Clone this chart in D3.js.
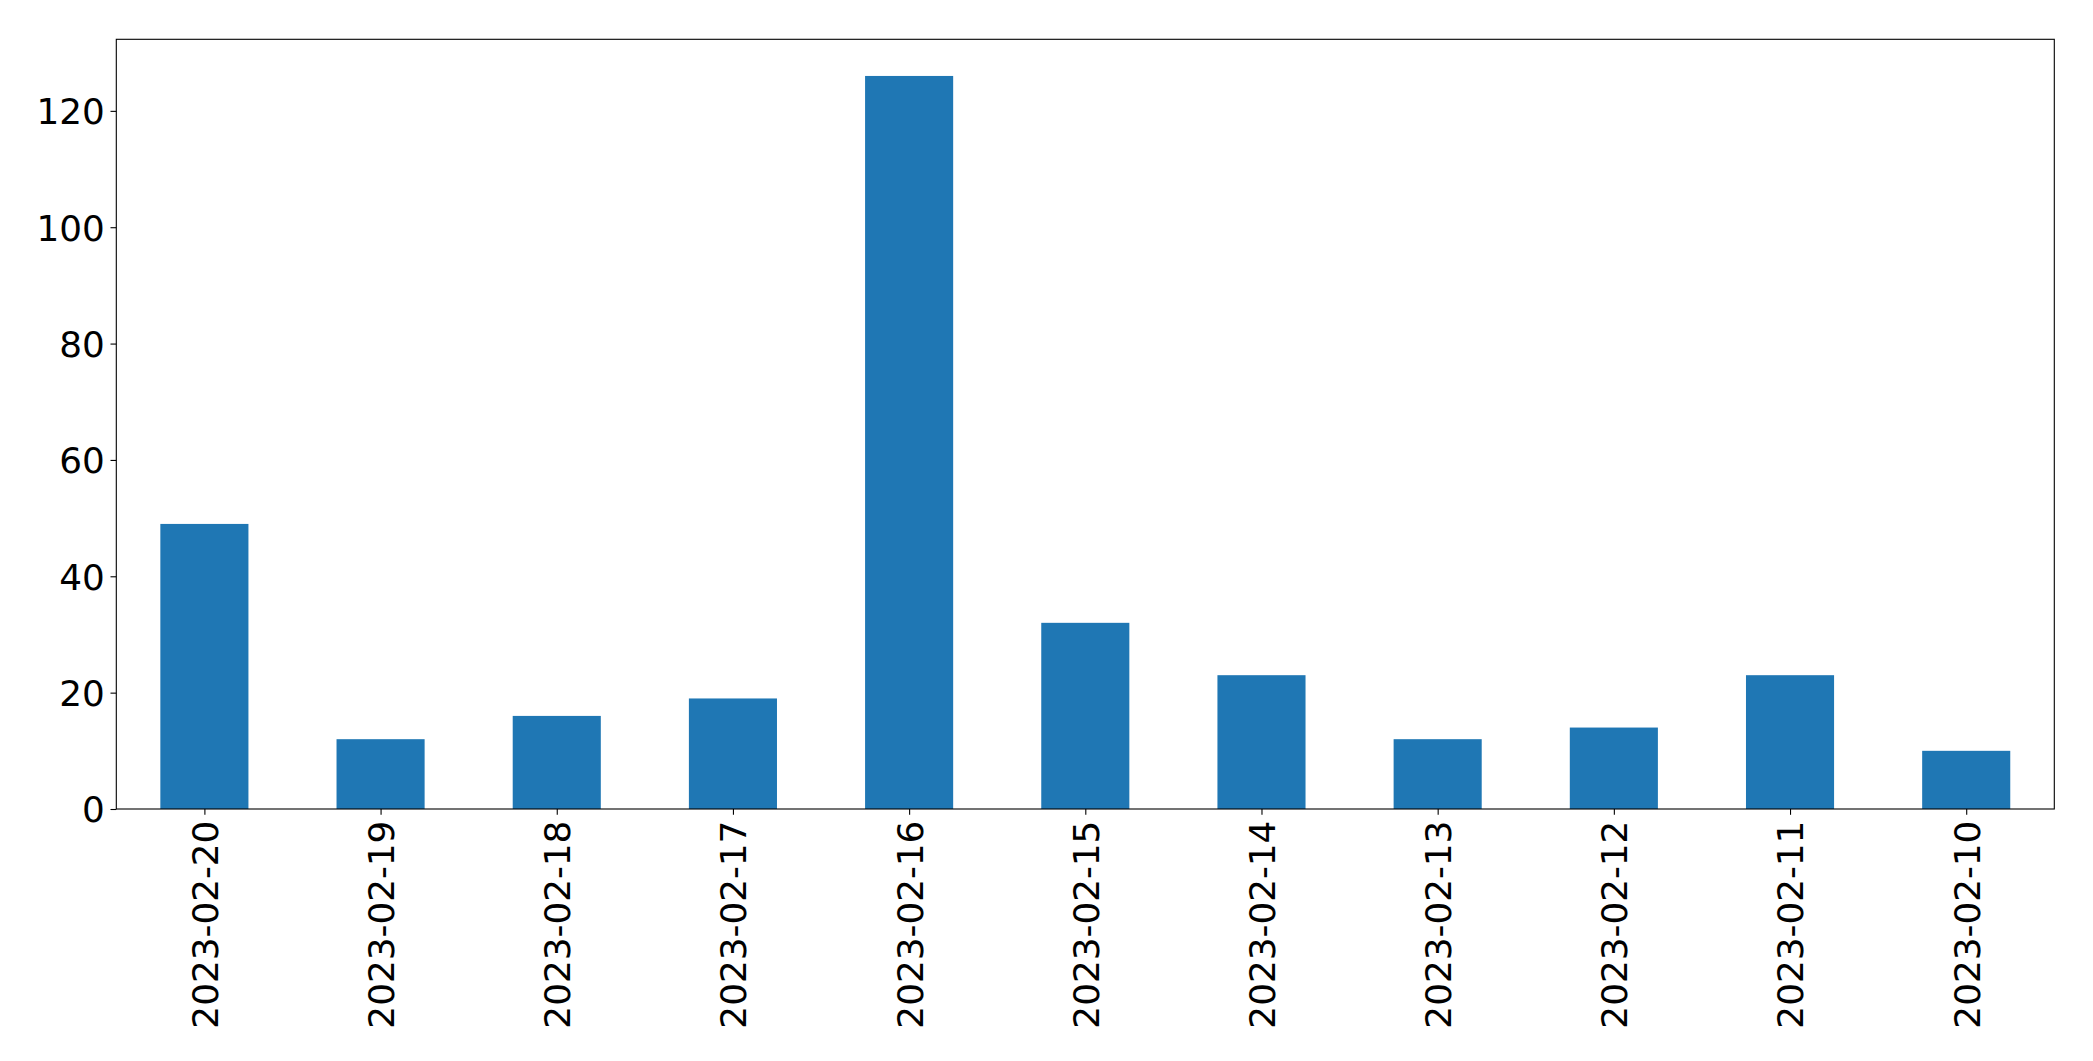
<!DOCTYPE html>
<html><head><meta charset="utf-8">
<script src="https://cdn.jsdelivr.net/npm/d3@7"></script>
<style>body{margin:0;background:#fff;} svg{display:block;}</style>
</head><body>
<script>
const categories = ["2023-02-20","2023-02-19","2023-02-18","2023-02-17","2023-02-16","2023-02-15","2023-02-14","2023-02-13","2023-02-12","2023-02-11","2023-02-10"];
const values = [49, 12, 16, 19, 126, 32, 23, 12, 14, 23, 10];
const yTicks = [0, 20, 40, 60, 80, 100, 120];

const W = 2093, H = 1061;
const m = {left: 116.3, right: 2093 - 2054.3, top: 39.3, bottom: 1061 - 809};
const svg = d3.select("body").append("svg").attr("width", W).attr("height", H);
const iw = W - m.left - m.right, ih = H - m.top - m.bottom;
const g = svg.append("g").attr("transform", `translate(${m.left},${m.top})`);

const x = d3.scaleLinear().domain([-0.5, categories.length - 0.5]).range([0, iw]);
const yMax = d3.max(values) * 1.05;
const y = d3.scaleLinear().domain([0, yMax]).range([ih, 0]);

g.selectAll("rect.bar").data(values).join("rect")
  .attr("class","bar")
  .attr("x", (d,i) => x(i - 0.25))
  .attr("width", (d,i) => x(i + 0.25) - x(i - 0.25))
  .attr("y", d => y(d))
  .attr("height", d => y(0) - y(d))
  .attr("fill", "#1f77b4");

const font = "DejaVu Sans";
const fs = 35.8;

const yAxis = g.append("g").call(d3.axisLeft(y).tickValues(yTicks).tickSize(5.8).tickPadding(5.8));
yAxis.select(".domain").remove();
yAxis.selectAll("line").attr("stroke","#000").attr("stroke-width",1.1);
yAxis.selectAll("text").attr("font-family", font).attr("font-size", fs).attr("fill","#000").attr("dy","0.36em");

const xAxis = g.append("g").attr("transform", `translate(0,${ih})`)
  .call(d3.axisBottom(x).tickValues(d3.range(categories.length)).tickFormat(i => categories[i]).tickSize(5.8).tickPadding(5.8));
xAxis.select(".domain").remove();
xAxis.selectAll("line").attr("stroke","#000").attr("stroke-width",1.1);
xAxis.selectAll("text")
  .attr("font-family", font).attr("font-size", fs).attr("fill","#000")
  .attr("text-anchor","end")
  .attr("transform","rotate(-90)")
  .attr("x", -11.6).attr("y", 0).attr("dy","0.36em");

g.append("rect").attr("x",0).attr("y",0).attr("width",iw).attr("height",ih)
  .attr("fill","none").attr("stroke","#000").attr("stroke-width",1.1);
</script>
</body></html>
